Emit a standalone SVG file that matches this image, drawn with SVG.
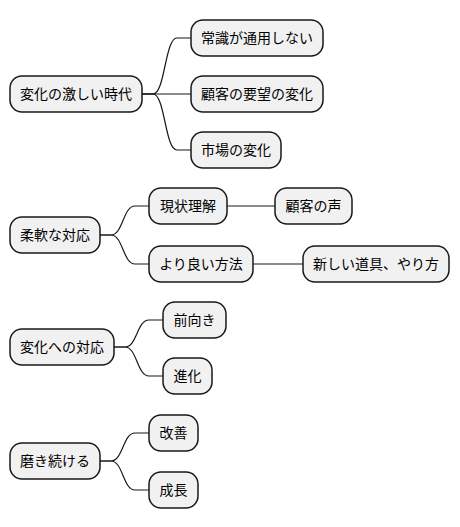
<svg xmlns="http://www.w3.org/2000/svg" width="460" height="527" viewBox="0 0 460 527">
<style>
rect.n{fill:#f1f1f1;stroke:#181818;stroke-width:1.5}
text{font-family:"Noto Sans CJK JP","Noto Sans",sans-serif;font-size:14px;fill:#000;text-anchor:middle}
.c path{fill:none;stroke:#181818;stroke-width:1.2}
</style>
<rect width="460" height="527" fill="#fff"/>
<g class="c" id="connectors">
<path d="M142,94 L153,94 C165,94 165,38 177,38 L191,38"/>
<path d="M142,94 L191,94"/>
<path d="M142,94 L153,94 C165,94 165,150 177,150 L191,150"/>
<path d="M100,235 L111,235 C123,235 123,206 135,206 L149,206"/>
<path d="M100,235 L111,235 C123,235 123,264 135,264 L149,264"/>
<path d="M227,206 L275,206"/>
<path d="M253,264 L303,264"/>
<path d="M114,347 L125,347 C137,347 137,320 149,320 L163,320"/>
<path d="M114,347 L125,347 C137,347 137,376 149,376 L163,376"/>
<path d="M100,461 L111,461 C123,461 123,433 135,433 L149,433"/>
<path d="M100,461 L111,461 C123,461 123,490 135,490 L149,490"/>
</g>
<g id="n1"><rect class="n" x="10" y="76" width="132" height="36" rx="12"/><text x="76" y="99">変化の激しい時代</text></g>
<g id="n1a"><rect class="n" x="191" y="20" width="132" height="36" rx="12"/><text x="257" y="43">常識が通用しない</text></g>
<g id="n1b"><rect class="n" x="191" y="76" width="132" height="36" rx="12"/><text x="257" y="99">顧客の要望の変化</text></g>
<g id="n1c"><rect class="n" x="191" y="132" width="90" height="36" rx="12"/><text x="236" y="155">市場の変化</text></g>
<g id="n2"><rect class="n" x="10" y="217" width="90" height="36" rx="12"/><text x="55" y="240">柔軟な対応</text></g>
<g id="n2a"><rect class="n" x="149" y="188" width="78" height="36" rx="12"/><text x="188" y="211">現状理解</text></g>
<g id="n2a1"><rect class="n" x="275" y="188" width="77" height="36" rx="12"/><text x="313.5" y="211">顧客の声</text></g>
<g id="n2b"><rect class="n" x="149" y="246" width="104" height="36" rx="12"/><text x="201" y="269">より良い方法</text></g>
<g id="n2b1"><rect class="n" x="303" y="246" width="146" height="36" rx="12"/><text x="376" y="269">新しい道具、やり方</text></g>
<g id="n3"><rect class="n" x="10" y="329" width="104" height="36" rx="12"/><text x="62" y="352">変化への対応</text></g>
<g id="n3a"><rect class="n" x="163" y="302" width="63" height="36" rx="12"/><text x="194.5" y="325">前向き</text></g>
<g id="n3b"><rect class="n" x="163" y="358" width="49" height="36" rx="12"/><text x="187.5" y="381">進化</text></g>
<g id="n4"><rect class="n" x="10" y="443" width="90" height="36" rx="12"/><text x="55" y="466">磨き続ける</text></g>
<g id="n4a"><rect class="n" x="149" y="415" width="49" height="36" rx="12"/><text x="173.5" y="438">改善</text></g>
<g id="n4b"><rect class="n" x="149" y="472" width="49" height="36" rx="12"/><text x="173.5" y="495">成長</text></g>
</svg>
